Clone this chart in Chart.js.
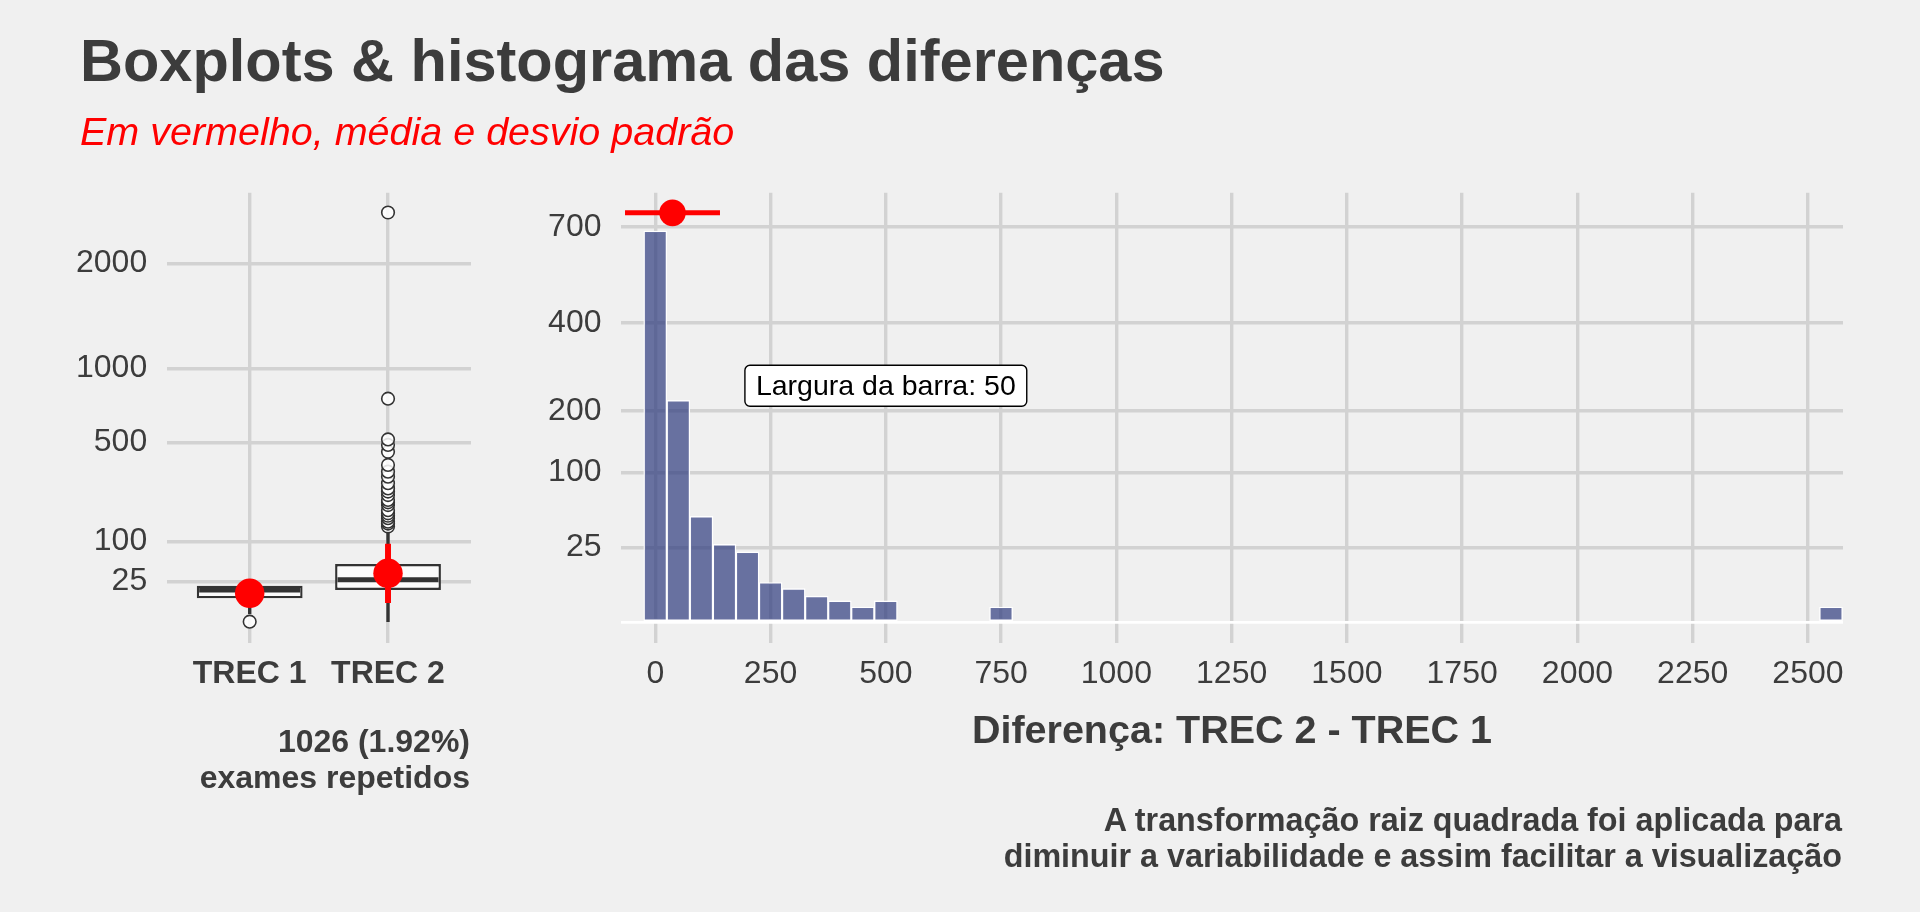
<!DOCTYPE html>
<html>
<head>
<meta charset="utf-8">
<script src="https://cdn.jsdelivr.net/npm/chart.js@4.4.1/dist/chart.umd.min.js"></script>
<style>
html,body{margin:0;padding:0;background:#F0F0F0;}
#wrap{position:relative;width:1920px;height:912px;overflow:hidden;background:#F0F0F0;
  font-family:'Liberation Sans',Arial,Helvetica,sans-serif;color:#3C3C3C;}
canvas{position:absolute;left:0;top:0;}
.t{position:absolute;white-space:nowrap;}
</style>
</head>
<body>
<div id="wrap">
  <canvas id="boxChart" width="1920" height="912"></canvas>
  <canvas id="histChart" width="1920" height="912"></canvas>
  <div class="t" style="left:80px;top:31px;font-size:59.5px;line-height:60px;font-weight:bold;">Boxplots &amp; histograma das diferenças</div>
  <div class="t" style="left:80px;top:111px;font-size:39.5px;line-height:40px;font-style:italic;color:#FF0000;">Em vermelho, média e desvio padrão</div>
  <div class="t" style="left:621px;width:1222px;top:709px;font-size:39.5px;line-height:40px;font-weight:bold;text-align:center;">Diferença: TREC 2 - TREC 1</div>
  <div class="t" style="right:1450px;top:724px;font-size:32px;line-height:35.6px;font-weight:bold;text-align:right;">1026 (1.92%)<br>exames repetidos</div>
  <div class="t" style="right:78px;top:803px;font-size:32.3px;line-height:35.6px;font-weight:bold;text-align:right;">A transformação raiz quadrada foi aplicada para<br>diminuir a variabilidade e assim facilitar a visualização</div>
</div>
<script>
// ---------- data: boxplots (original units) ----------
const groups      = ['TREC 1', 'TREC 2'];
const boxQ1       = [8.5, 15.7];
const boxMedian   = [15.7, 27.4];
const boxQ3       = [20.2, 51.9];
const whiskerLow  = [1, 0];
const whiskerHigh = [21, 136];
const outliersTrec1 = [0];
const outliersTrec2 = [141, 150, 156, 167, 175, 183, 194, 212, 222, 231, 250, 264, 277, 299, 328, 351, 383, 450, 487, 518, 775, 2610];
const groupMean   = [12.6, 36.5];
const groupSdLow  = [7, 5.6];
const groupSdHigh = [20, 94];
const boxYTicks   = [25, 100, 500, 1000, 2000];

// ---------- data: histogram of differences ----------
const binCenters = [0,50,100,150,200,250,300,350,400,450,500,550,600,650,700,750,800,850,900,950,
  1000,1050,1100,1150,1200,1250,1300,1350,1400,1450,1500,1550,1600,1650,1700,1750,1800,1850,1900,1950,
  2000,2050,2100,2150,2200,2250,2300,2350,2400,2450,2500,2550];
const binCounts = [685,220,50,27,22,7,5,3,2,1,2,0,0,0,0,1,0,0,0,0,
  0,0,0,0,0,0,0,0,0,0,0,0,0,0,0,0,0,0,0,0,
  0,0,0,0,0,0,0,0,0,0,0,1];
const diffMean = 37.3;
const diffSd = 103;
const meanMarkerCount = 750;
const histYTicks = [0, 25, 100, 200, 400, 700];
const histXTicks = [0,250,500,750,1000,1250,1500,1750,2000,2250,2500];
const noteText = 'Largura da barra: 50';
const noteX = 500;
const noteCount = 250;

// ---------- styling ----------
const sq = v => Math.sqrt(v);
const FONT = "'Liberation Sans', Arial, Helvetica, sans-serif";
const TXT = '#3C3C3C';
const GRID = '#D2D2D2';
const BOX_W = 0.765;
const BOX_BORDER = 2.4;

const gridOpts = {color: GRID, lineWidth: 3.4, drawTicks: false, offset: false};

// ---------- left: boxplots (sqrt scale) ----------
new Chart(document.getElementById('boxChart'), {
  type: 'bar',
  data: {
    datasets: [
      { type: 'scatter', data: groups.map((g, i) => ({x: i + 1, y: sq(groupMean[i])})),
        pointRadius: 14.7, pointHoverRadius: 14.7, pointBackgroundColor: '#FF0000', pointBorderWidth: 0 },
      { type: 'bar', stack: 's', data: groups.map((g, i) => ({x: i + 1, y: [sq(groupSdLow[i]), sq(groupSdHigh[i])]})),
        backgroundColor: '#FF0000', borderWidth: 0, barThickness: 5.3 },
      { type: 'scatter',
        data: outliersTrec1.map(v => ({x: 1, y: sq(v)})).concat(outliersTrec2.map(v => ({x: 2, y: sq(v)}))),
        pointRadius: 6.3, pointHoverRadius: 6.3, pointBackgroundColor: 'rgba(255,255,255,0.85)',
        pointBorderColor: '#333333', pointBorderWidth: 1.6 },
      { type: 'scatter', data: groups.map((g, i) => ({x: i + 1, y: sq(boxMedian[i])})),
        pointStyle: 'line', pointBorderColor: '#333333', pointBorderWidth: 5,
        pointRadius: ctx => {
          const xs = ctx.chart.scales.x;
          return (xs.getPixelForValue(1 + BOX_W / 2) - xs.getPixelForValue(1)) - BOX_BORDER;
        } },
      { type: 'bar', stack: 's', data: groups.map((g, i) => ({x: i + 1, y: [sq(boxQ1[i]), sq(boxQ3[i])]})),
        backgroundColor: '#FBFBFB', borderColor: '#333333', borderWidth: BOX_BORDER, borderSkipped: false,
        barPercentage: BOX_W, categoryPercentage: 1 },
      { type: 'bar', stack: 's', data: groups.map((g, i) => ({x: i + 1, y: [sq(whiskerLow[i]), sq(whiskerHigh[i])]})),
        backgroundColor: '#333333', borderWidth: 0, barThickness: 2.7 }
    ]
  },
  options: {
    responsive: false, animation: false, devicePixelRatio: 1, events: [],
    layout: {padding: {left: 0, right: 1920 - 471, top: 192.7, bottom: 0}},
    plugins: {legend: {display: false}, tooltip: {enabled: false}, title: {display: false}},
    scales: {
      x: { type: 'linear', min: 0.4, max: 2.6, offset: false,
        grid: gridOpts, border: {display: false},
        afterBuildTicks: s => { s.ticks = groups.map((g, i) => ({value: i + 1})); },
        ticks: { callback: v => groups[Math.round(v) - 1], font: {family: FONT, size: 32, weight: 'bold'},
          color: TXT, padding: 12, maxRotation: 0, autoSkip: false },
        afterFit: s => { s.height = 912 - 643; } },
      y: { type: 'linear', min: -2.66, max: 53.56, stacked: false,
        grid: gridOpts, border: {display: false},
        afterBuildTicks: s => { s.ticks = boxYTicks.map(v => ({value: sq(v)})); },
        ticks: { callback: v => String(Math.round(v * v)), font: {family: FONT, size: 32},
          color: TXT, padding: 19.5, autoSkip: false },
        afterFit: s => { s.width = 166.7; } }
    }
  }
});

// ---------- right: histogram (sqrt scale) ----------
const notePlugin = {
  id: 'note',
  afterDatasetsDraw(chart) {
    const {ctx, scales: {x, y}} = chart;
    const px = x.getPixelForValue(noteX), py = y.getPixelForValue(sq(noteCount));
    ctx.save();
    ctx.font = '28.5px ' + FONT;
    const w = ctx.measureText(noteText).width + 22, h = 41, r = 5;
    const l = px - w / 2, t = py - h / 2;
    ctx.beginPath();
    ctx.moveTo(l + r, t); ctx.lineTo(l + w - r, t); ctx.arcTo(l + w, t, l + w, t + r, r);
    ctx.lineTo(l + w, t + h - r); ctx.arcTo(l + w, t + h, l + w - r, t + h, r);
    ctx.lineTo(l + r, t + h); ctx.arcTo(l, t + h, l, t + h - r, r);
    ctx.lineTo(l, t + r); ctx.arcTo(l, t, l + r, t, r); ctx.closePath();
    ctx.fillStyle = '#FFFFFF'; ctx.fill();
    ctx.lineWidth = 1.4; ctx.strokeStyle = '#000000'; ctx.stroke();
    ctx.fillStyle = '#000000'; ctx.textAlign = 'center'; ctx.textBaseline = 'middle';
    ctx.fillText(noteText, px, py + 1);
    ctx.restore();
  }
};

new Chart(document.getElementById('histChart'), {
  type: 'bar',
  data: {
    datasets: [
      { type: 'scatter', data: [{x: diffMean, y: sq(meanMarkerCount)}],
        pointRadius: 13.3, pointHoverRadius: 13.3, pointBackgroundColor: '#FF0000', pointBorderWidth: 0 },
      { type: 'line', data: [{x: diffMean - diffSd, y: sq(meanMarkerCount)}, {x: diffMean + diffSd, y: sq(meanMarkerCount)}],
        borderColor: '#FF0000', borderWidth: 5, pointRadius: 0, fill: false },
      { type: 'bar', data: binCenters.map((c, i) => ({x: c, y: sq(binCounts[i])})),
        backgroundColor: 'rgba(46,58,126,0.7)', borderColor: '#FFFFFF', borderWidth: 1.4, borderSkipped: false,
        barPercentage: 1, categoryPercentage: 1 }
    ]
  },
  options: {
    responsive: false, animation: false, devicePixelRatio: 1, events: [],
    layout: {padding: {left: 521, right: 77, top: 192.7, bottom: 0}},
    plugins: {legend: {display: false}, tooltip: {enabled: false}, title: {display: false}},
    scales: {
      x: { type: 'linear', min: -74.4, max: 2576, offset: false,
        grid: gridOpts, border: {display: false},
        afterBuildTicks: s => { s.ticks = histXTicks.map(v => ({value: v})); },
        ticks: { callback: v => String(v), font: {family: FONT, size: 32}, color: TXT, padding: 12,
          maxRotation: 0, autoSkip: false },
        afterFit: s => { s.height = 912 - 643; } },
      y: { type: 'linear', min: -1.406, max: 28.735, stacked: false,
        grid: { drawTicks: false, offset: false,
          color: c => (c.tick && c.tick.value === 0) ? '#FFFFFF' : GRID,
          lineWidth: c => (c.tick && c.tick.value === 0) ? 2.8 : 3.4 },
        border: {display: false},
        afterBuildTicks: s => { s.ticks = histYTicks.map(v => ({value: sq(v)})); },
        ticks: { callback: v => (v === 0 ? '' : String(Math.round(v * v))), font: {family: FONT, size: 32},
          color: TXT, padding: 19.5, autoSkip: false },
        afterFit: s => { s.width = 100; } }
    }
  },
  plugins: [notePlugin]
});
</script>
</body>
</html>
